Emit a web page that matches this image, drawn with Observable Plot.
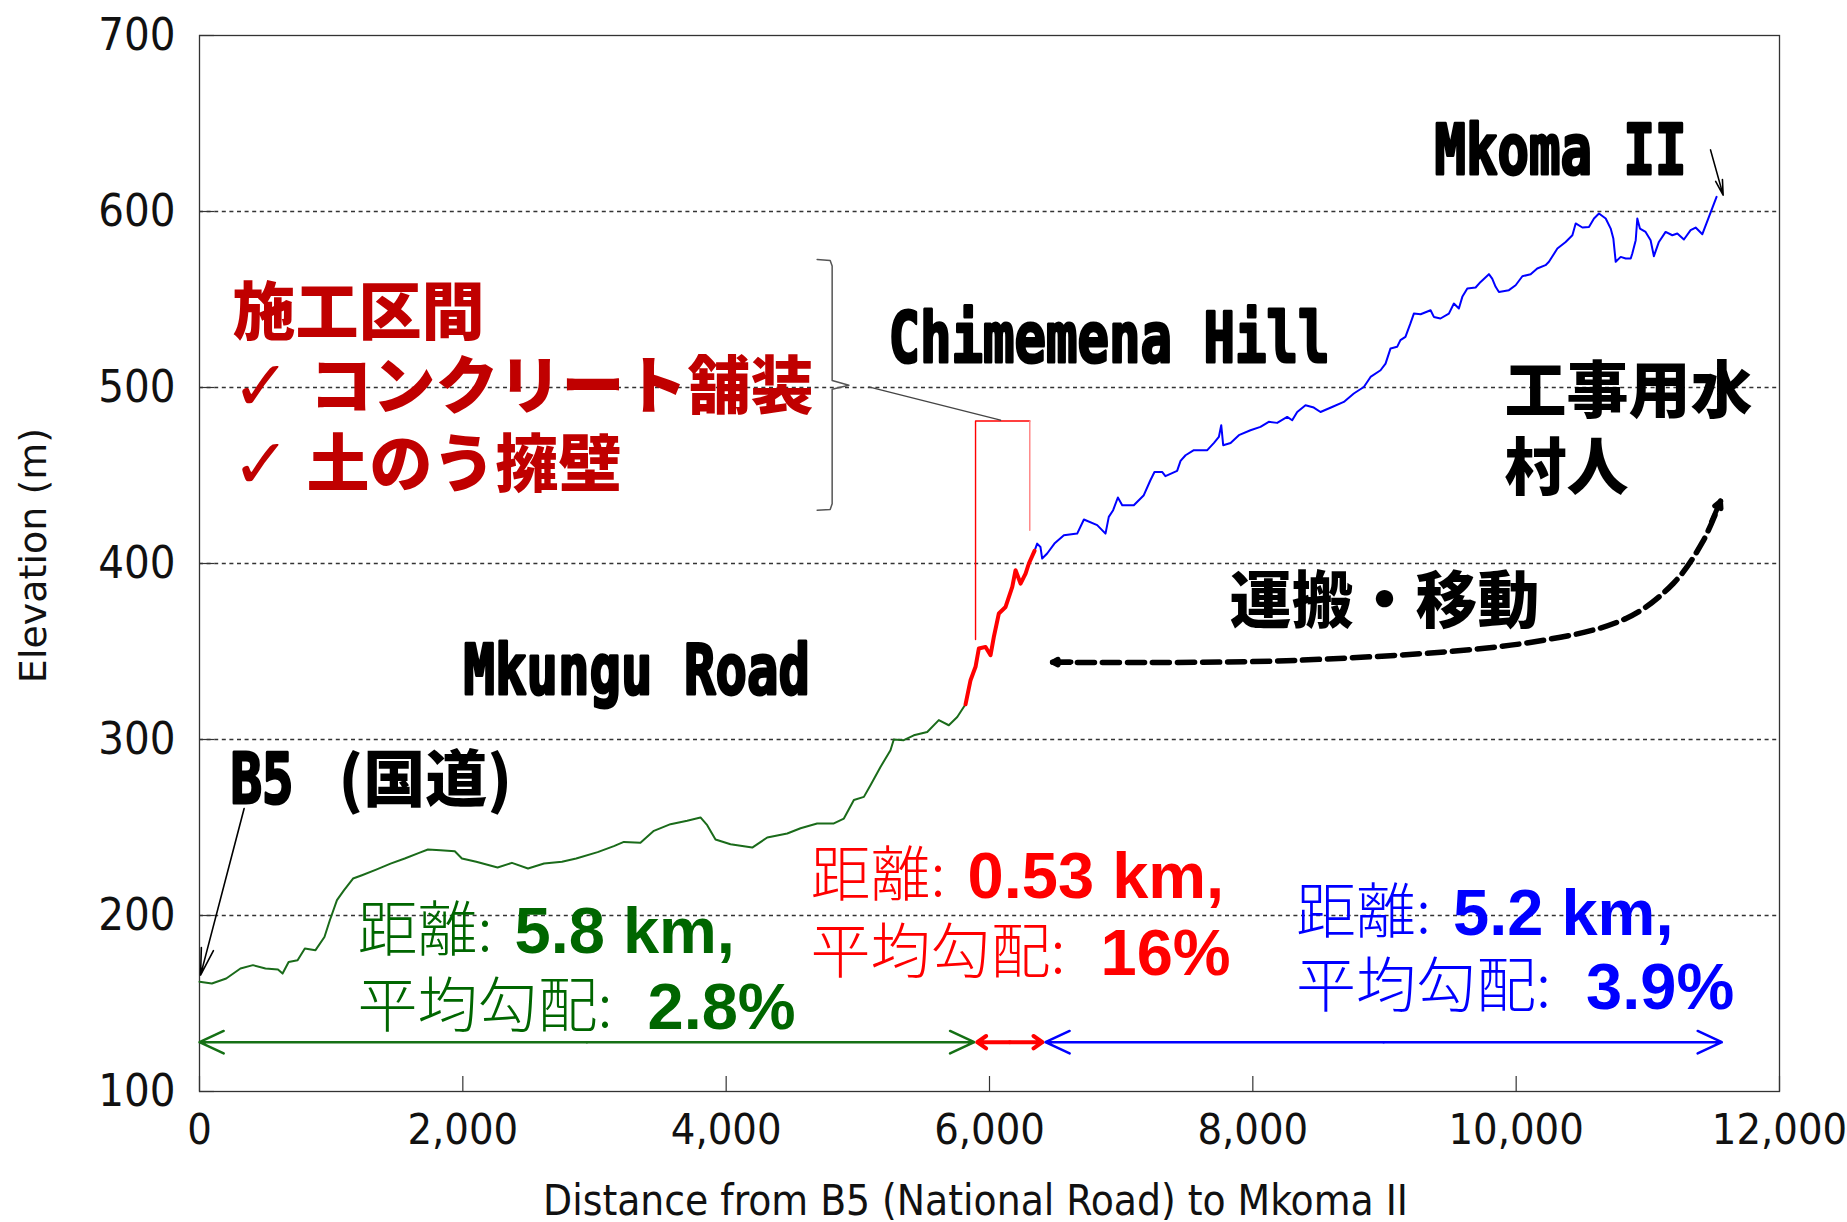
<!DOCTYPE html>
<html>
<head>
<meta charset="utf-8">
<script src="https://cdn.jsdelivr.net/npm/d3@7"></script>
<script src="https://cdn.jsdelivr.net/npm/@observablehq/plot@0.6"></script>
<style>
html, body { margin: 0; padding: 0; background: #ffffff; }
#chart { width: 1847px; height: 1222px; }
</style>
</head>
<body>
<div id="chart"></div>
<script>
// ---------- Elevation profile (distance m, elevation m) ----------
const greenDist = [0, 94, 203, 311, 406, 501, 596, 631, 677, 745, 800, 881, 949, 990, 1044, 1098, 1166, 1234, 1342, 1451, 1559, 1668, 1735, 1830, 1939, 1993, 2102, 2264, 2373, 2495, 2617, 2753, 2861, 3024, 3147, 3223, 3349, 3451, 3577, 3704, 3805, 3856, 3919, 4033, 4198, 4312, 4464, 4565, 4691, 4818, 4894, 4970, 5046, 5096, 5172, 5248, 5273, 5349, 5425, 5527, 5615, 5691, 5755, 5818];
const greenElev = [162.3, 161.4, 164.2, 169.9, 171.8, 169.9, 169.3, 167.0, 173.6, 174.6, 181.3, 180.3, 187.8, 197.3, 208.7, 214.4, 221.0, 222.9, 226.1, 229.5, 232.4, 235.6, 237.5, 237.1, 236.5, 232.4, 230.5, 227.3, 229.9, 226.7, 229.5, 230.5, 232.4, 236.0, 239.4, 241.8, 241.3, 248.1, 251.9, 253.8, 255.7, 251.3, 243.2, 240.5, 238.6, 244.3, 246.6, 249.6, 252.3, 252.3, 255.1, 265.6, 267.4, 274.0, 284.4, 293.9, 300.0, 299.6, 302.4, 304.3, 311.0, 308.1, 312.8, 320.0];

const redDist = [5818, 5856, 5894, 5919, 5970, 6008, 6033, 6071, 6122, 6173, 6198, 6236, 6274, 6299, 6342];
const redElev = [320.0, 333.7, 341.3, 351.7, 352.6, 347.9, 358.3, 371.6, 375.3, 386.7, 396.2, 388.6, 394.3, 400.0, 407.2];

const blueDist = [6342, 6362, 6387, 6400, 6438, 6493, 6565, 6666, 6717, 6818, 6881, 6906, 6939, 6975, 7008, 7096, 7172, 7222, 7253, 7311, 7336, 7425, 7451, 7489, 7552, 7654, 7705, 7742, 7760, 7775, 7831, 7894, 7982, 8058, 8121, 8185, 8261, 8299, 8337, 8400, 8463, 8514, 8602, 8691, 8767, 8843, 8894, 8970, 9008, 9046, 9096, 9121, 9159, 9197, 9223, 9274, 9350, 9375, 9425, 9489, 9527, 9565, 9591, 9629, 9692, 9730, 9793, 9818, 9844, 9869, 9945, 9996, 10047, 10110, 10160, 10223, 10249, 10313, 10376, 10427, 10452, 10503, 10553, 10591, 10629, 10680, 10718, 10738, 10756, 10794, 10832, 10870, 10882, 10908, 10920, 10940, 10983, 11021, 11046, 11084, 11135, 11186, 11224, 11274, 11325, 11363, 11414, 11522];
const blueElev = [407.2, 411.3, 409.4, 402.8, 405.7, 411.3, 416.1, 417.0, 425.0, 421.8, 417.0, 426.5, 430.3, 437.5, 433.1, 433.1, 438.8, 447.3, 452.0, 452.0, 449.6, 452.6, 458.3, 461.5, 464.4, 464.4, 468.5, 471.9, 478.6, 467.2, 468.5, 472.9, 475.7, 477.6, 480.5, 479.9, 483.3, 481.4, 486.1, 489.9, 488.6, 486.1, 488.9, 491.8, 496.6, 500.3, 506.0, 509.8, 513.6, 522.2, 523.1, 526.9, 528.8, 536.4, 542.0, 541.6, 543.9, 540.1, 539.2, 542.0, 547.7, 544.9, 551.5, 556.3, 556.8, 560.0, 564.4, 561.9, 557.2, 554.3, 555.3, 558.1, 563.2, 564.4, 567.6, 569.5, 571.4, 579.0, 582.7, 586.5, 593.2, 590.9, 591.2, 596.0, 598.9, 596.0, 590.3, 584.7, 571.4, 574.2, 573.3, 573.3, 576.1, 583.7, 596.0, 590.3, 588.4, 583.7, 574.6, 582.7, 588.4, 586.5, 587.5, 584.1, 589.4, 590.9, 587.1, 608.3];

// ---------- Axes ----------
const xTicks = [0, 2000, 4000, 6000, 8000, 10000, 12000];
const yTicks = [100, 200, 300, 400, 500, 600, 700];
const gridTicks = [200, 300, 400, 500, 600];
const xTitle = "Distance from B5 (National Road) to Mkoma II";
const yTitle = "Elevation (m)";

// ---------- Section statistics ----------
const statDistLabel = ["距離:", "距離:", "距離:"];
const statGradeLabel = ["平均勾配:", "平均勾配:", "平均勾配:"];
const statDistValue = ["5.8 km,", "0.53 km,", "5.2 km,"];
const statGradeValue = ["2.8%", "16%", "3.9%"];
const statX = [1200, 4641, 8328];
const statY1 = [190.6, 222.0, 200.8];
const statY2 = [147.4, 178.1, 158.8];

// section span arrows (distance)
const spanStart = [0, 5907, 6425];
const spanEnd = [5884, 6402, 11562];
const spanElev = 128;

// ---------- Place labels ----------
const popText = ["Chimemena Hill", "Mkungu Road", "Mkoma II", "B5"];
const popX = [5233, 2005, 9380, 235];
const popY = [527.5, 338.3, 634.3, 276.9];

const jpText = ["(国道)", "工事用水", "村人", "運搬・移動"];
const jpX = [1056, 9911, 9911, 7823];
const jpY = [275.8, 496.8, 453.1, 377.5];

const workText = ["施工区間", "コンクリート舗装", "土のう擁壁"];
const workX = [251, 835, 813];
const workY = [541.7, 499.7, 455.4];
const checkX = [245, 245];
const checkY = [499.7, 455.4];

// brace and leader for work section
const braceX = [4691, 4790, 4805, 4805, 4932, 4805, 4805, 4790, 4691];
const braceY = [572.7, 572.2, 569.0, 504.0, 501.3, 499.0, 434.0, 430.7, 430.3];
const leaderX = [5083, 6084];
const leaderY = [500.3, 481.4];
const sectionBoxX = [5894, 5894, 6306, 6306];
const sectionBoxY = [356.8, 481.0, 481.0, 418.9];

// pointer arrows
const pointerX1 = [339, 11476];
const pointerY1 = [260.8, 635.0];
const pointerX2 = [8, 11572];
const pointerY2 = [166.1, 609.3];

// transport curved arrow
const haulX = [6479, 8332, 10117, 10838, 11195, 11415, 11552];
const haulY = [343.9, 345.0, 355.3, 368.9, 388.8, 412.1, 435.4];

// ---------- Build ----------
const rows = (xs, ys) => xs.map((x, i) => ({x, y: ys[i]}));
const W = 1847, H = 1222, ML = 199, MR = 68, MT = 35, MB = 131;
const innerW = W - ML - MR, innerH = H - MT - MB;

const narrow = "'Liberation Sans Narrow', 'DejaVu Sans Condensed', 'Arial Narrow', sans-serif";
const cjk = "'Noto Sans CJK JP', 'Noto Sans CJK SC', sans-serif";
const arial = "'Liberation Sans', Arial, sans-serif";
const mono = "'DejaVu Sans Mono', 'Liberation Mono', monospace";

const greenLine = "#1a6b1a", greenText = "#006600";
const spanColors = ["#157015", "#ff0000", "#0000ff"];
const spanWidths = [2.5, 4, 2.5];

const marks = [
  Plot.gridY(gridTicks, {stroke: "#333", strokeOpacity: 1, strokeWidth: 1.3, strokeDasharray: "4,3.6"}),
  Plot.ruleX(xTicks, {stroke: "#333", strokeWidth: 1.2, insetTop: innerH - 15}),
  Plot.ruleY(yTicks, {stroke: "#333", strokeWidth: 1.2, insetRight: innerW - 15}),
  Plot.frame({stroke: "#333", strokeWidth: 1.3}),
  Plot.axisX({ticks: xTicks, tickFormat: d3.format(","), tickSize: 0, tickPadding: 22, fontSize: 43, fontFamily: narrow, label: null}),
  Plot.axisY({ticks: yTicks, tickSize: 0, tickPadding: 24, fontSize: 45, fontFamily: narrow, label: null}),
  Plot.text([xTitle], {frameAnchor: "bottom", lineAnchor: "middle", textAnchor: "middle", dy: 110, dx: -14, fontSize: 42, fontFamily: narrow, fill: "#111"}),
  Plot.text([yTitle], {frameAnchor: "left", lineAnchor: "middle", textAnchor: "middle", dx: -166, dy: -8, rotate: -90, fontSize: 38, fontFamily: "'DejaVu Sans', Verdana, sans-serif", fill: "#111"}),

  // profile
  Plot.line(rows(greenDist, greenElev), {x: "x", y: "y", stroke: greenLine, strokeWidth: 2}),
  Plot.line(rows(blueDist, blueElev), {x: "x", y: "y", stroke: "#0000ff", strokeWidth: 2}),
  Plot.line(rows(redDist, redElev), {x: "x", y: "y", stroke: "#ff0000", strokeWidth: 4}),

  // section box + brace
  Plot.line(rows(sectionBoxX.slice(0, 3), sectionBoxY.slice(0, 3)), {x: "x", y: "y", stroke: "#ff0000", strokeWidth: 1.4}),
  Plot.line(rows(sectionBoxX.slice(2), sectionBoxY.slice(2)), {x: "x", y: "y", stroke: "#ff8080", strokeWidth: 1.4}),
  Plot.line(rows(braceX, braceY), {x: "x", y: "y", stroke: "#555", strokeWidth: 1.5}),
  Plot.line(rows(leaderX, leaderY), {x: "x", y: "y", stroke: "#444", strokeWidth: 1.3}),

  // pointer arrows
  Plot.arrow(pointerX1, {x1: d => d, y1: (d, i) => pointerY1[i], x2: (d, i) => pointerX2[i], y2: (d, i) => pointerY2[i], stroke: "#000", strokeWidth: 1.6, headLength: 26, headAngle: 26}),

  // curved haul arrow (dashed body + solid heads)
  Plot.line(rows(haulX, haulY), {x: "x", y: "y", curve: "catmull-rom", stroke: "#000", strokeWidth: 5.5, strokeDasharray: "17,8"}),
  Plot.arrow([0], {x1: () => haulX[0] + 140, y1: () => haulY[0] + 0.2, x2: () => haulX[0], y2: () => haulY[0], stroke: "#000", strokeWidth: 5, headLength: 26, headAngle: 55}),
  Plot.arrow([0], {x1: () => (haulX[5] + haulX[6]) / 2, y1: () => (haulY[5] + haulY[6]) / 2, x2: () => haulX[6], y2: () => haulY[6], stroke: "#000", strokeWidth: 5, headLength: 26, headAngle: 55}),

  // place labels
  Plot.text(popText, {x: (d, i) => popX[i], y: (d, i) => popY[i], text: d => d, textAnchor: "start", fontFamily: mono, fontWeight: "bold", fontSize: 70, fill: "#000", stroke: "#000", strokeWidth: 3}),
  Plot.text(jpText, {x: (d, i) => jpX[i], y: (d, i) => jpY[i], text: d => d, textAnchor: "start", fontFamily: cjk, fontWeight: 900, fontSize: 62, fill: "#000"}),
  Plot.text(workText, {x: (d, i) => workX[i], y: (d, i) => workY[i], text: d => d, textAnchor: "start", fontFamily: cjk, fontWeight: 900, fontSize: 63, fill: "#c00000"}),
  Plot.text(checkX, {x: d => d, y: (d, i) => checkY[i], text: () => "✓", textAnchor: "start", fontFamily: "'DejaVu Sans', sans-serif", fontWeight: "normal", fontSize: 70, fill: "#c00000"})
];

// section span arrows: double heads drawn as two arrows from the middle outward
spanStart.forEach((s, i) => {
  const mid = (s + spanEnd[i]) / 2;
  const opts = {y1: () => spanElev, y2: () => spanElev, x1: () => mid, stroke: spanColors[i], strokeWidth: spanWidths[i], headLength: i === 1 ? 14 : 16, headAngle: i === 1 ? 70 : 50};
  marks.push(
    Plot.arrow([0], {...opts, x2: () => s}),
    Plot.arrow([0], {...opts, x2: () => spanEnd[i]})
  );
});

const statColors = [greenText, "#ff0000", "#0000ff"];
statX.forEach((sx, i) => {
  const common = {x: () => sx, textAnchor: "start", fill: statColors[i]};
  marks.push(
    Plot.text([statDistLabel[i]], {...common, y: () => statY1[i], fontFamily: cjk, fontWeight: 300, fontSize: 60}),
    Plot.text([statDistValue[i]], {...common, y: () => statY1[i], dx: 157, fontFamily: arial, fontWeight: "bold", fontSize: 65}),
    Plot.text([statGradeLabel[i]], {...common, y: () => statY2[i], fontFamily: cjk, fontWeight: 300, fontSize: 60}),
    Plot.text([statGradeValue[i]], {...common, y: () => statY2[i], dx: 290, fontFamily: arial, fontWeight: "bold", fontSize: 65})
  );
});

const chart = Plot.plot({
  width: W, height: H,
  marginLeft: ML, marginRight: MR, marginTop: MT, marginBottom: MB,
  x: {domain: [0, 12000]},
  y: {domain: [100, 700]},
  style: {fontFamily: narrow, background: "#ffffff", color: "#111", overflow: "visible"},
  marks
});

// pop-style labels: tall, condensed monospace glyphs
d3.select(chart).selectAll("text")
  .filter(function () { return popText.includes(this.textContent); })
  .each(function () {
    const t = this.textContent;
    this.setAttribute("textLength", t.length * 31.5);
    this.setAttribute("lengthAdjust", "spacingAndGlyphs");
  });

document.getElementById("chart").appendChild(chart);
</script>
</body>
</html>
